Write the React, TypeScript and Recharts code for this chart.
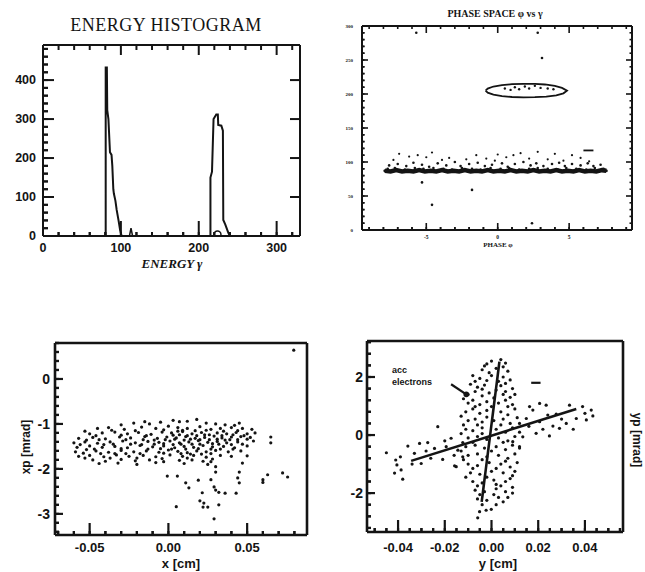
import React from 'react';
import { ScatterChart, Scatter, XAxis, YAxis } from 'recharts';

const INK = '#141414';
const SANS = '"Liberation Sans", Arial, Helvetica, sans-serif';
const SERIF = '"Liberation Serif", "DejaVu Serif", serif';

type P = [number, number];

// ---------- Panel 1: energy histogram ----------
const histLowPeak: P[] = [[80.5,0],[80.5,323],[80.5,432],[82,432],[82.5,323],[84,300],[86,215],[88,208],[89,180],[90.3,120],[91,109],[93,90],[94.6,67],[97,40],[99,15],[101,0]];
const histHighPeak: P[] = [[215,0],[215,150],[217,165],[219,300],[222.5,312],[224.5,312],[225,285],[229,283],[231,270],[231.5,41],[234,30],[238,8],[240,0]];
const histBump: P[] = [[111,0],[113,20],[115,0]];
const histMarker: P[] = [[224,4]];
const histXMajor = [0, 100, 200, 300];
const histYMajor = [0, 100, 200, 300, 400];

// ---------- Panel 2: phase space ----------
const phaseStrip: P[] = [[-7.9,87],[-7.5,86],[-7.1,88],[-6.7,86],[-6.3,87],[-5.9,86],[-5.5,88],[-5.1,86],[-4.7,87],[-4.3,86],[-3.9,88],[-3.5,86],[-3.1,87],[-2.7,86],[-2.3,88],[-1.9,86],[-1.5,87],[-1.1,86],[-0.7,88],[-0.3,86],[0.1,87],[0.5,86],[0.9,88],[1.3,86],[1.7,87],[2.1,86],[2.5,88],[2.9,86],[3.3,87],[3.7,86],[4.1,88],[4.5,86],[4.9,87],[5.3,86],[5.7,88],[6.1,86],[6.5,87],[6.9,86],[7.3,88],[7.6,87]];
const phaseBand: P[] = [[-7.7,90],[-7.2,91],[-6.5,89],[-5.8,91],[-5.2,90],[-4.5,91],[-3.8,90],[-3.2,89],[-2.5,91],[-1.8,90],[-1.2,89],[-0.5,91],[0.2,90],[0.8,91],[1.5,89],[2.2,90],[2.8,91],[3.5,90],[4.2,89],[4.8,91],[5.5,90],[6.2,89],[6.8,91],[7.4,90],
  [-7.6,95],[-7.0,97],[-6.4,94],[-5.9,99],[-5.3,96],[-4.8,93],[-4.2,98],[-3.6,95],[-3.0,100],[-2.6,94],[-2.0,97],[-1.4,99],[-0.9,94],[-0.4,96],[0.3,98],[0.7,93],[1.2,97],[1.8,100],[2.3,95],[2.7,98],[3.2,94],[3.8,97],[4.3,99],[4.7,94],[5.2,97],[5.8,95],[6.3,98],[6.7,94],[7.2,96]];
const phaseScatterUp: P[] = [[-6.9,112],[-6.2,108],[-5.6,110],[-5.0,107],[-3.9,103],[-3.4,106],[-2.2,104],[-1.5,110],[-0.8,105],[-0.2,102],[0.6,107],[1.1,110],[1.6,113],[2.2,105],[2.8,115],[3.5,104],[4.0,112],[4.6,102],[5.2,110],[5.8,106],[6.4,101],[-4.6,114],[-7.3,103],[0.0,111]];
const phaseRing: P[] = [[-0.85,205],[-0.7,208],[-0.3,211],[0.3,213],[1.0,214.5],[1.8,215],[2.6,215],[3.3,214],[4.0,212],[4.5,209],[4.85,205],[4.6,201],[4.1,198],[3.4,196],[2.6,195.3],[1.8,195],[1.0,195.6],[0.3,197],[-0.3,199],[-0.7,202],[-0.85,205]];
const phaseRingInner: P[] = [[0.5,208],[1.2,210],[1.9,211],[2.6,212],[3.0,209],[3.5,208],[2.2,208],[1.5,207],[3.9,207],[0.9,206]];
const phaseOutliers: P[] = [[-5.7,290],[2.8,290],[3.1,253],[-5.3,70],[-4.6,37],[-1.8,59],[2.4,10]];
const phaseDash: P[] = [[6.0,117],[6.7,117]];
const phaseXMajor = [-5, 0, 5];
const phaseYMajor = [0, 50, 100, 150, 200, 250, 300];

// ---------- Panel 3: xp vs x ----------
const xCloud: P[] = [
  [-0.03,-1.02],[-0.022,-0.98],[-0.012,-1.0],[-0.005,-0.96],[0.003,-0.92],[0.007,-0.95],[0.018,-0.9],[0.024,-0.98],[0.03,-1.0],[0.036,-1.02],[0.042,-1.03],
  [-0.045,-1.1],[-0.038,-1.08],[-0.028,-1.12],[-0.017,-1.07],[-0.008,-1.1],[0.0,-1.05],[0.006,-1.08],[0.012,-1.1],[0.02,-1.06],[0.027,-1.12],[0.033,-1.1],[0.04,-1.08],[0.047,-1.1],[0.053,-1.12],
  [-0.05,-1.22],[-0.042,-1.2],[-0.034,-1.18],[-0.026,-1.22],[-0.019,-1.19],[-0.011,-1.23],[-0.004,-1.18],[0.002,-1.2],[0.009,-1.17],[0.015,-1.22],[0.021,-1.19],[0.026,-1.24],[0.031,-1.2],[0.037,-1.22],[0.043,-1.19],[0.05,-1.22],[0.055,-1.2],
  [-0.057,-1.32],[-0.048,-1.3],[-0.04,-1.33],[-0.031,-1.29],[-0.024,-1.31],[-0.015,-1.28],[-0.007,-1.32],[-0.001,-1.29],[0.005,-1.31],[0.011,-1.28],[0.017,-1.32],[0.023,-1.3],[0.029,-1.27],[0.034,-1.31],[0.04,-1.29],[0.046,-1.28],[0.052,-1.3],
  [-0.06,-1.42],[-0.053,-1.4],[-0.045,-1.43],[-0.037,-1.4],[-0.029,-1.38],[-0.021,-1.42],[-0.013,-1.39],[-0.006,-1.41],[0.001,-1.38],[0.007,-1.42],[0.013,-1.4],[0.019,-1.37],[0.025,-1.41],[0.031,-1.39],[0.037,-1.42],[0.044,-1.4],[0.054,-1.38],
  [-0.058,-1.52],[-0.05,-1.49],[-0.042,-1.52],[-0.034,-1.5],[-0.026,-1.53],[-0.018,-1.48],[-0.01,-1.51],[-0.003,-1.49],[0.004,-1.53],[0.01,-1.5],[0.016,-1.52],[0.022,-1.48],[0.028,-1.51],[0.035,-1.5],[0.042,-1.53],[0.05,-1.49],
  [-0.059,-1.62],[-0.054,-1.65],[-0.046,-1.6],[-0.038,-1.63],[-0.03,-1.59],[-0.022,-1.62],[-0.014,-1.6],[-0.006,-1.63],[0.0,-1.58],[0.006,-1.61],[0.012,-1.64],[0.018,-1.6],[0.024,-1.62],[0.03,-1.59],[0.038,-1.62],[0.046,-1.6],
  [-0.057,-1.72],[-0.05,-1.7],[-0.041,-1.73],[-0.033,-1.69],[-0.025,-1.72],[-0.016,-1.7],[-0.008,-1.73],[0.001,-1.69],[0.009,-1.72],[0.016,-1.7],[0.024,-1.74],[0.033,-1.7],[0.04,-1.72],
  [-0.048,-1.8],[-0.04,-1.83],[-0.03,-1.79],[-0.021,-1.82],[-0.012,-1.8],[-0.003,-1.84],[0.007,-1.81],[0.015,-1.8],[0.022,-1.83],
  [-0.044,-1.88],[-0.032,-1.87],[-0.02,-1.9],[-0.008,-1.86],[0.01,-1.88],[0.025,-1.9],
  [-0.002,-1.35],[0.008,-1.45],[0.014,-1.34],[0.02,-1.45],[0.026,-1.35],[0.032,-1.45],[0.003,-1.25],[0.018,-1.26],[-0.009,-1.45],[0.011,-1.56],[0.027,-1.56],[-0.016,-1.35],[-0.035,-1.45],[-0.044,-1.35],[-0.052,-1.57],[0.039,-1.35],[0.047,-1.45],[-0.027,-1.66],[0.021,-1.67],[0.006,-1.16]
];
const xCloudDense: P[] = [
  [-0.053,-1.16],[-0.036,-1.14],[-0.021,-1.15],[-0.003,-1.13],[0.009,-1.14],[0.017,-1.15],[0.024,-1.14],[0.035,-1.16],[0.044,-1.15],
  [-0.046,-1.26],[-0.03,-1.25],[-0.014,-1.26],[0.007,-1.24],[0.012,-1.26],[0.023,-1.24],[0.034,-1.26],[0.041,-1.24],[0.048,-1.26],
  [-0.052,-1.36],[-0.027,-1.35],[-0.009,-1.36],[0.004,-1.34],[0.01,-1.36],[0.02,-1.35],[0.031,-1.34],[0.036,-1.36],[0.044,-1.35],[0.05,-1.34],
  [-0.056,-1.46],[-0.041,-1.46],[-0.024,-1.45],[-0.017,-1.46],[-0.003,-1.44],[0.003,-1.46],[0.015,-1.45],[0.028,-1.44],[0.04,-1.46],
  [-0.047,-1.56],[-0.03,-1.55],[-0.013,-1.56],[-0.005,-1.55],[0.002,-1.56],[0.019,-1.55],[0.033,-1.56],[0.041,-1.56],
  [-0.043,-1.66],[-0.034,-1.66],[-0.018,-1.66],[-0.003,-1.65],[0.008,-1.66],[0.014,-1.67],[0.027,-1.66],
  [-0.053,-1.76],[-0.037,-1.76],[-0.02,-1.76],[-0.004,-1.77],[0.012,-1.76],[0.028,-1.78],
  [-0.015,-0.95],[0.012,-0.94],[0.045,-0.98]
];
const xTail: P[] = [[0.0796,0.64],[0.065,-1.29],[0.065,-1.42],[0.063,-2.13],[0.06,-2.24],[0.06,-2.3],[0.0725,-2.09],[0.0757,-2.18],
  [-0.0007,-2.16],[0.0057,-2.16],[0.005,-2.84],[0.011,-2.31],[0.013,-2.42],[0.019,-2.25],[0.0215,-2.53],[0.02,-2.71],[0.0225,-2.76],[0.025,-2.85],[0.022,-2.85],[0.027,-2.24],[0.029,-2.4],[0.030,-2.47],[0.032,-2.52],[0.036,-2.54],[0.032,-2.8],[0.029,-3.11],[0.043,-2.54],[0.045,-2.31],[0.044,-2.2],[0.045,-2.07],[0.047,-1.87],[0.05,-1.71],[0.03,-1.95],[0.03,-2.07],[0.027,-1.84]];
const xXMajor = [-0.05, 0, 0.05];
const xYMajor = [-3, -2, -1, 0];

// ---------- Panel 4: yp vs y ----------
const yVertical: P[] = [
  [0.0,2.55],[0.004,2.6],[-0.002,2.45],[0.006,2.48],[-0.004,2.25],[0.002,2.3],[0.007,2.2],[-0.001,2.15],
  [-0.008,2.05],[-0.005,1.95],[0.005,2.0],[0.008,1.9],[-0.002,1.88],[-0.009,1.75],[-0.006,1.65],[-0.003,1.72],[0.004,1.7],[0.009,1.6],[0.006,1.78],
  [-0.01,1.4],[-0.007,1.5],[-0.004,1.35],[-0.001,1.45],[0.005,1.4],[0.008,1.3],[0.002,1.55],
  [-0.01,1.1],[-0.008,1.2],[-0.005,1.05],[-0.002,1.15],[0.003,1.1],[0.006,1.2],[0.009,1.05],
  [-0.011,0.8],[-0.008,0.9],[-0.005,0.75],[-0.002,0.85],[0.004,0.8],[0.007,0.7],[0.01,0.9],
  [-0.01,0.5],[-0.007,0.55],[-0.004,0.45],[0.001,0.5],[0.005,0.55],[0.008,0.4],[-0.012,0.35],
  [-0.011,0.2],[-0.008,0.15],[-0.004,0.25],[0.002,0.2],[0.006,0.1],[0.009,0.25],
  [-0.01,-0.1],[-0.006,-0.05],[-0.002,-0.15],[0.003,-0.1],[0.007,-0.2],[0.01,-0.05],
  [-0.011,-0.4],[-0.007,-0.35],[-0.003,-0.45],[0.002,-0.4],[0.006,-0.5],[0.009,-0.35],
  [-0.01,-0.7],[-0.006,-0.65],[-0.002,-0.75],[0.003,-0.7],[0.007,-0.8],[0.01,-0.65],
  [-0.01,-1.0],[-0.006,-1.05],[-0.001,-0.95],[0.004,-1.0],[0.008,-1.1],[-0.008,-1.15],
  [-0.009,-1.3],[-0.005,-1.35],[0.0,-1.25],[0.005,-1.3],[0.009,-1.4],
  [-0.008,-1.6],[-0.004,-1.65],[0.001,-1.55],[0.006,-1.6],[0.004,-1.75],
  [-0.007,-1.9],[-0.003,-1.95],[0.002,-1.85],[0.006,-1.95],[0.009,-1.8],
  [-0.006,-2.2],[-0.002,-2.25],[0.003,-2.15],[0.005,-2.3],
  [-0.0023,-2.59],[-0.0001,-2.56],[-0.0051,-2.64],[-0.0059,-2.85]
];
const yVerticalDense: P[] = [[-0.003,2.38],[0.005,2.35],[0.0,2.05],[0.003,1.85],[-0.007,1.85],[-0.004,1.58],[0.006,1.5],[0.01,1.4],[-0.012,1.25],[0.001,1.28],[-0.007,0.98],[0.0,0.98],[0.007,0.98],[0.011,0.6],[-0.013,0.65],[-0.002,0.62],[0.004,0.35],[-0.006,0.35],[0.012,0.1],[-0.013,0.05],[-0.004,0.05],[0.005,-0.25],[-0.008,-0.25],[0.012,-0.45],[-0.013,-0.55],[0.0,-0.55],[-0.004,-0.85],[0.006,-0.9],[0.011,-0.95],[-0.012,-0.85],[0.002,-1.15],[0.01,-1.25],[-0.011,-1.45],[-0.002,-1.45],[0.008,-1.5],[-0.006,-1.75],[0.002,-1.7],[0.009,-2.0],[-0.005,-2.05],[0.001,-2.05],[0.007,-2.15],[0.002,-2.4],[-0.004,-2.4]];
const yDiagonal: P[] = [[-0.045,-0.61],[-0.041,-0.86],[-0.039,-0.75],[-0.0415,-1.31],[-0.038,-1.52],[-0.0387,-1.2],[-0.0405,-1.03],[-0.0358,-0.38],[-0.033,-0.63],[-0.0308,-0.29],[-0.0273,-0.26],[-0.0301,-0.98],[-0.023,0.29],[-0.0244,-0.46],[-0.0209,-0.84],[-0.0158,-1.06],[-0.0151,-1.09],[-0.0194,-0.4],[-0.0173,-0.11],[-0.0144,-0.52],[-0.0123,-0.26],[-0.0123,-0.75],
  [0.039,0.98],[0.0427,0.86],[0.0406,0.52],[0.0434,0.66],[0.0363,0.57],[0.0334,1.03],[0.032,0.4],[0.0291,0.23],[0.0248,-0.03],[0.0263,0.31],[0.0191,0.06],[0.0177,0.86],[0.0206,1.09],[0.0234,1.03],[0.0163,0.98],[0.0149,0.57],[0.012,0.4],[0.0206,0.46],[0.0134,-0.06],[0.0091,-0.23],[0.012,-0.4],[0.0277,0.72],[0.0241,0.69],
  [-0.028,-0.55],[-0.02,-0.2],[-0.016,-0.7],[0.016,0.3],[0.022,0.2],[0.03,0.55],[0.035,0.2],[0.04,0.75],[-0.034,-1.0],[-0.026,-0.8]];
const yFitShallow: P[] = [[-0.0344,-0.89],[0.0363,0.9]];
const yFitSteep: P[] = [[-0.0042,-2.3],[0.0034,2.53]];
const yArrow: P[] = [[-0.0173,1.75],[-0.0108,1.4]];
const yArrowHead: P[] = [[-0.0108,1.4]];
const yDash: P[] = [[0.017,1.8],[0.021,1.8]];
const yXMajor = [-0.04, -0.02, 0, 0.02, 0.04];
const yYMajor = [-2, 0, 2];

// ---------- helpers ----------
const toXY = (arr: P[]) => arr.map(([x, y]) => ({ x, y }));
const rangeTicks = (a: number, b: number, step: number) => {
  const n = Math.round((b - a) / step);
  return Array.from({ length: n + 1 }, (_, i) => +(a + i * step).toFixed(6));
};
type Side = 'left' | 'right' | 'top' | 'bottom';
interface TickOpts { majors: number[]; majorLen: number; minorLen: number; labels?: boolean; fmt?: (v: number) => string; fs?: number; gap?: number; sw?: number; family?: string; }
// Left and bottom axes use the native (inward, negative-size) tick line for the
// minor length, so the tick renderer's anchor is shifted by minorLen from the axis.
const makeTick = (side: Side, o: TickOpts, shift: number) => (props: any) => {
  let x = Number(props.x);
  let y = Number(props.y);
  if (side === 'left') x -= shift;
  if (side === 'bottom') y += shift;
  const v = Number(props.payload.value);
  const isMajor = o.majors.some((m) => Math.abs(m - v) < 1e-7);
  const len = isMajor ? o.majorLen : o.minorLen;
  let x2 = x, y2 = y;
  if (side === 'left') x2 = x + len;
  if (side === 'right') x2 = x - len;
  if (side === 'bottom') y2 = y - len;
  if (side === 'top') y2 = y + len;
  const fs = o.fs ?? 12;
  const gap = o.gap ?? 6;
  const txt = o.fmt ? o.fmt(v) : String(v);
  return (
    <g>
      {len > 0 && <line x1={x} y1={y} x2={x2} y2={y2} stroke={INK} strokeWidth={o.sw ?? 2} />}
      {o.labels && isMajor && side === 'left' && (
        <text x={x - gap} y={y} dy="0.35em" textAnchor="end" fontSize={fs} fontWeight="bold" fontFamily={o.family ?? SANS} fill={INK}>{txt}</text>
      )}
      {o.labels && isMajor && side === 'bottom' && (
        <text x={x} y={y + gap} textAnchor="middle" fontSize={fs} fontWeight="bold" fontFamily={o.family ?? SANS} fill={INK}>{txt}</text>
      )}
    </g>
  );
};
const dot = (r: number) => (p: any) => <circle cx={p.cx} cy={p.cy} r={r} fill={INK} />;
const ring = (r: number) => (p: any) => <circle cx={p.cx} cy={p.cy} r={r} fill="none" stroke={INK} strokeWidth={1.5} />;
const noDot = () => <g />;
const intFmt = (v: number) => String(Math.round(v));
const fix2 = (v: number) => (Math.abs(v) < 1e-9 ? '0.00' : v.toFixed(2));
const NONE: TickOpts = { majors: [], majorLen: 0, minorLen: 0 };

interface FrameProps { xDomain: [number, number]; yDomain: [number, number]; xTicks: number[]; yTicks: number[]; topTicks?: number[]; rightTicks?: number[]; xOpts: TickOpts; yOpts: TickOpts; topOpts?: TickOpts; rightOpts?: TickOpts; xH: number; yW: number; sw: number; anchor: P[]; }
const frameParts = (f: FrameProps) => [
  <XAxis key="xb" xAxisId="b" dataKey="x" type="number" domain={f.xDomain} allowDataOverflow ticks={f.xTicks} interval={0} tickSize={-f.xOpts.minorLen} tickMargin={0} height={f.xH} tickLine={{ stroke: INK, strokeWidth: f.xOpts.sw ?? 2 }} axisLine={{ stroke: INK, strokeWidth: f.sw }} tick={makeTick('bottom', f.xOpts, f.xOpts.minorLen)} />,
  <XAxis key="xt" xAxisId="t" dataKey="x" orientation="top" type="number" domain={f.xDomain} allowDataOverflow ticks={f.topTicks ?? [f.xDomain[0]]} interval={0} tickSize={0} tickMargin={0} height={1} tickLine={false} axisLine={{ stroke: INK, strokeWidth: f.sw }} tick={makeTick('top', f.topOpts ?? NONE, 0)} />,
  <YAxis key="yl" yAxisId="l" dataKey="y" type="number" domain={f.yDomain} allowDataOverflow ticks={f.yTicks} interval={0} tickSize={-f.yOpts.minorLen} tickMargin={0} width={f.yW} tickLine={{ stroke: INK, strokeWidth: f.yOpts.sw ?? 2 }} axisLine={{ stroke: INK, strokeWidth: f.sw }} tick={makeTick('left', f.yOpts, f.yOpts.minorLen)} />,
  <YAxis key="yr" yAxisId="r" dataKey="y" orientation="right" type="number" domain={f.yDomain} allowDataOverflow ticks={f.rightTicks ?? [f.yDomain[0]]} interval={0} tickSize={0} tickMargin={0} width={1} tickLine={false} axisLine={{ stroke: INK, strokeWidth: f.sw }} tick={makeTick('right', f.rightOpts ?? NONE, 0)} />,
  <Scatter key="anchor" xAxisId="t" yAxisId="r" data={toXY(f.anchor)} shape={noDot} isAnimationActive={false} />,
];

const box = (left: number, top: number, w: number, h: number): React.CSSProperties => ({ position: 'absolute', left, top, width: w, height: h });

export default function App() {
  return (
    <div style={{ position: 'absolute', left: 0, top: 0, width: 645, height: 572, background: '#fff', overflow: 'hidden' }}>
      {/* Panel 1 */}
      <div style={box(0, 0, 330, 290)}>
        <ScatterChart width={330} height={290} margin={{ top: 44, right: 29, bottom: 0, left: 0 }}>
          {frameParts({
            xDomain: [0, 330], yDomain: [0, 490],
            xTicks: rangeTicks(0, 320, 20), yTicks: rangeTicks(0, 480, 20),
            topTicks: rangeTicks(20, 320, 20), rightTicks: histYMajor.slice(1),
            xOpts: { majors: histXMajor, majorLen: 15, minorLen: 4, labels: true, fmt: intFmt, fs: 12.5, gap: 16 },
            yOpts: { majors: histYMajor, majorLen: 11, minorLen: 5, labels: true, fmt: intFmt, fs: 12.5, gap: 7 },
            topOpts: { majors: histXMajor, majorLen: 10, minorLen: 5 },
            rightOpts: { majors: histYMajor, majorLen: 10, minorLen: 4 },
            xH: 54, yW: 43, sw: 2, anchor: histMarker,
          })}
          <Scatter xAxisId="b" yAxisId="l" data={toXY(histLowPeak)} line={{ stroke: INK, strokeWidth: 2 }} shape={noDot} isAnimationActive={false} />
          <Scatter xAxisId="b" yAxisId="l" data={toXY(histHighPeak)} line={{ stroke: INK, strokeWidth: 2 }} shape={noDot} isAnimationActive={false} />
          <Scatter xAxisId="b" yAxisId="l" data={toXY(histBump)} line={{ stroke: INK, strokeWidth: 1.5 }} shape={noDot} isAnimationActive={false} />
          <Scatter xAxisId="b" yAxisId="l" data={toXY(histMarker)} shape={ring(3.5)} isAnimationActive={false} />
        </ScatterChart>
      </div>

      {/* Panel 2 */}
      <div style={box(320, 0, 325, 290)}>
        <ScatterChart width={325} height={290} margin={{ top: 25, right: 12, bottom: 0, left: 0 }}>
          {frameParts({
            xDomain: [-9.5, 9.4], yDomain: [0, 300],
            xTicks: rangeTicks(-9, 9, 1), yTicks: rangeTicks(0, 300, 10),
            topTicks: rangeTicks(-9, 9, 1), rightTicks: rangeTicks(0, 300, 10),
            xOpts: { majors: phaseXMajor, majorLen: 7, minorLen: 3, labels: true, fmt: intFmt, fs: 5.5, gap: 9, family: SERIF, sw: 1.6 },
            yOpts: { majors: phaseYMajor, majorLen: 6, minorLen: 2.5, labels: true, fmt: intFmt, fs: 5, gap: 9, family: SERIF, sw: 1.6 },
            topOpts: { majors: phaseXMajor, majorLen: 7, minorLen: 3, sw: 1.6 },
            rightOpts: { majors: phaseYMajor, majorLen: 6, minorLen: 2.5, sw: 1.6 },
            xH: 60, yW: 42, sw: 2, anchor: phaseOutliers,
          })}
          <Scatter xAxisId="b" yAxisId="l" data={toXY(phaseStrip)} line={{ stroke: INK, strokeWidth: 4.5 }} shape={dot(1.5)} isAnimationActive={false} />
          <Scatter xAxisId="b" yAxisId="l" data={toXY(phaseBand)} shape={dot(1.3)} isAnimationActive={false} />
          <Scatter xAxisId="b" yAxisId="l" data={toXY(phaseScatterUp)} shape={dot(1.1)} isAnimationActive={false} />
          <Scatter xAxisId="b" yAxisId="l" data={toXY(phaseRing)} line={{ stroke: INK, strokeWidth: 1.8 }} shape={noDot} isAnimationActive={false} />
          <Scatter xAxisId="b" yAxisId="l" data={toXY(phaseRingInner)} shape={dot(1.2)} isAnimationActive={false} />
          <Scatter xAxisId="b" yAxisId="l" data={toXY(phaseOutliers)} shape={dot(1.3)} isAnimationActive={false} />
          <Scatter xAxisId="b" yAxisId="l" data={toXY(phaseDash)} line={{ stroke: INK, strokeWidth: 1.8 }} shape={noDot} isAnimationActive={false} />
        </ScatterChart>
      </div>

      {/* Panel 3 */}
      <div style={box(0, 290, 330, 282)}>
        <ScatterChart width={330} height={282} margin={{ top: 52, right: 22, bottom: 0, left: 0 }}>
          {frameParts({
            xDomain: [-0.072, 0.088], yDomain: [-3.47, 0.8],
            xTicks: rangeTicks(-0.07, 0.08, 0.01), yTicks: rangeTicks(-3.4, 0.8, 0.2),
            xOpts: { majors: xXMajor, majorLen: 12, minorLen: 4, labels: true, fmt: fix2, fs: 13, gap: 17, sw: 2.2 },
            yOpts: { majors: xYMajor, majorLen: 8, minorLen: 4, labels: true, fmt: intFmt, fs: 14, gap: 5, sw: 2.2 },
            xH: 37, yW: 55, sw: 2.6, anchor: xTail,
          })}
          <Scatter xAxisId="b" yAxisId="l" data={toXY(xCloud)} shape={dot(1.6)} isAnimationActive={false} />
          <Scatter xAxisId="b" yAxisId="l" data={toXY(xCloudDense)} shape={dot(1.6)} isAnimationActive={false} />
          <Scatter xAxisId="b" yAxisId="l" data={toXY(xTail)} shape={dot(1.6)} isAnimationActive={false} />
        </ScatterChart>
      </div>

      {/* Panel 4 */}
      <div style={box(320, 290, 325, 282)}>
        <ScatterChart width={325} height={282} margin={{ top: 50, right: 21, bottom: 0, left: 0 }}>
          {frameParts({
            xDomain: [-0.0533, 0.0563], yDomain: [-3.34, 3.24],
            xTicks: rangeTicks(-0.05, 0.055, 0.005), yTicks: rangeTicks(-3.2, 3.2, 0.4),
            xOpts: { majors: yXMajor, majorLen: 12, minorLen: 4, labels: true, fmt: fix2, fs: 13, gap: 20, sw: 2.2 },
            yOpts: { majors: yYMajor, majorLen: 8, minorLen: 4, labels: true, fmt: intFmt, fs: 14, gap: 4, sw: 2.2 },
            xH: 40, yW: 47, sw: 2.6, anchor: yFitShallow,
          })}
          <Scatter xAxisId="b" yAxisId="l" data={toXY(yVertical)} shape={dot(1.6)} isAnimationActive={false} />
          <Scatter xAxisId="b" yAxisId="l" data={toXY(yVerticalDense)} shape={dot(1.6)} isAnimationActive={false} />
          <Scatter xAxisId="b" yAxisId="l" data={toXY(yDiagonal)} shape={dot(1.6)} isAnimationActive={false} />
          <Scatter xAxisId="b" yAxisId="l" data={toXY(yFitShallow)} line={{ stroke: INK, strokeWidth: 2.6 }} shape={noDot} isAnimationActive={false} />
          <Scatter xAxisId="b" yAxisId="l" data={toXY(yFitSteep)} line={{ stroke: INK, strokeWidth: 2.6 }} shape={noDot} isAnimationActive={false} />
          <Scatter xAxisId="b" yAxisId="l" data={toXY(yArrow)} line={{ stroke: INK, strokeWidth: 2.2 }} shape={noDot} isAnimationActive={false} />
          <Scatter xAxisId="b" yAxisId="l" data={toXY(yArrowHead)} shape={dot(2.8)} isAnimationActive={false} />
          <Scatter xAxisId="b" yAxisId="l" data={toXY(yDash)} line={{ stroke: INK, strokeWidth: 2.2 }} shape={noDot} isAnimationActive={false} />
        </ScatterChart>
      </div>

      {/* Titles and axis labels */}
      <svg width={645} height={572} style={{ position: 'absolute', left: 0, top: 0, pointerEvents: 'none' }}>
        <text x={166} y={31} textAnchor="middle" fontSize={18} fontFamily={SERIF} fill={INK} letterSpacing={0.5}>ENERGY HISTOGRAM</text>
        <text x={172} y={268} textAnchor="middle" fontSize={13} fontStyle="italic" fontWeight="bold" fontFamily={SERIF} fill={INK}>ENERGY γ</text>
        <text x={495} y={17} textAnchor="middle" fontSize={10} fontWeight="bold" fontFamily={SERIF} fill={INK}>PHASE SPACE φ vs γ</text>
        <text x={498} y={247} textAnchor="middle" fontSize={7} fontWeight="bold" fontFamily={SERIF} fill={INK}>PHASE φ</text>
        <text transform="translate(30,447) rotate(-90)" textAnchor="middle" fontSize={12} fontWeight="bold" fontFamily={SANS} fill={INK}>xp [mrad]</text>
        <text x={181} y={568} textAnchor="middle" fontSize={13} fontWeight="bold" fontFamily={SANS} fill={INK}>x [cm]</text>
        <text x={498} y={568} textAnchor="middle" fontSize={13} fontWeight="bold" fontFamily={SANS} fill={INK}>y [cm]</text>
        <text transform="translate(633,440) rotate(90)" textAnchor="middle" fontSize={12} fontWeight="bold" fontFamily={SANS} fill={INK}>yp [mrad]</text>
        <text x={392} y={373} fontSize={9} fontWeight="bold" fontFamily={SANS} fill={INK}>acc</text>
        <text x={392} y={385} fontSize={9} fontWeight="bold" fontFamily={SANS} fill={INK}>electrons</text>
      </svg>
    </div>
  );
}
